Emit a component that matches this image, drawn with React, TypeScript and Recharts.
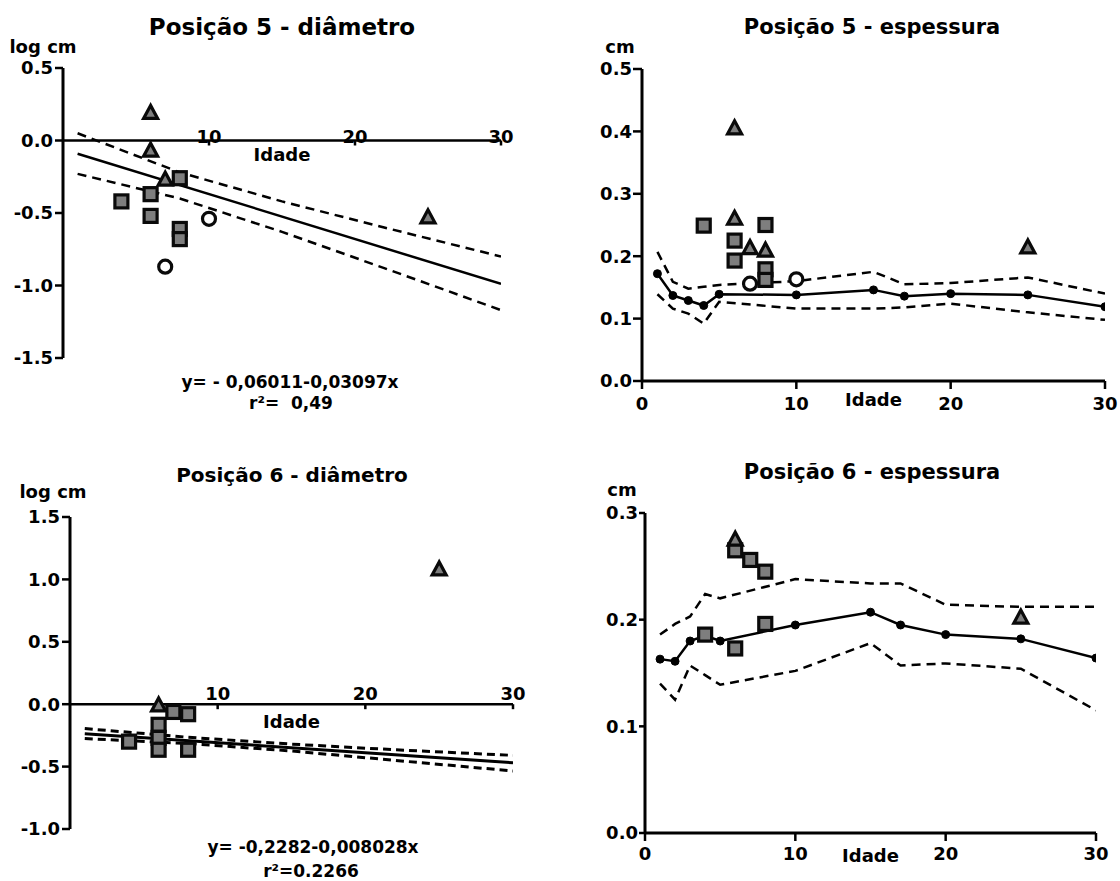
import React from 'react';
import { ComposedChart, XAxis, YAxis, Line, Scatter, ReferenceLine, ReferenceDot } from 'recharts';

const FONT = '"DejaVu Sans", "Liberation Sans", sans-serif';

// ---------- Panel 1: Posição 5 - diâmetro ----------
const p1TriX = [6, 6, 7, 25];
const p1TriY = [0.19, -0.07, -0.27, -0.53];
const p1SqX = [4, 6, 6, 8, 8, 8];
const p1SqY = [-0.42, -0.37, -0.52, -0.26, -0.61, -0.68];
const p1CirX = [7, 10];
const p1CirY = [-0.87, -0.54];
const p1FitX = [1, 30];
const p1FitY = [-0.091, -0.989];
const p1BandX = [1, 8, 15, 22, 30];
const p1Upper = [0.05, -0.22, -0.42, -0.6, -0.8];
const p1Lower = [-0.23, -0.4, -0.63, -0.88, -1.17];
const p1YTicks = [0.5, 0, -0.5, -1, -1.5];

// ---------- Panel 2: Posição 5 - espessura ----------
const p2LineX = [1, 2, 3, 4, 5, 10, 15, 17, 20, 25, 30];
const p2Mean = [0.172, 0.137, 0.129, 0.121, 0.139, 0.138, 0.146, 0.136, 0.14, 0.138, 0.119];
const p2Upper = [0.207, 0.159, 0.148, 0.151, 0.154, 0.16, 0.175, 0.155, 0.157, 0.166, 0.14];
const p2Lower = [0.139, 0.116, 0.108, 0.092, 0.127, 0.116, 0.116, 0.118, 0.124, 0.11, 0.098];
const p2TriX = [6, 6, 7, 8, 25];
const p2TriY = [0.405, 0.26, 0.213, 0.209, 0.214];
const p2SqX = [4, 6, 6, 8, 8, 8];
const p2SqY = [0.249, 0.225, 0.193, 0.25, 0.179, 0.162];
const p2CirX = [7, 10];
const p2CirY = [0.156, 0.163];
const p2YTicks = [0, 0.1, 0.2, 0.3, 0.4, 0.5];

// ---------- Panel 3: Posição 6 - diâmetro ----------
const p3TriX = [6, 25];
const p3TriY = [-0.01, 1.08];
const p3SqX = [4, 6, 6, 6, 7, 8, 8];
const p3SqY = [-0.3, -0.165, -0.27, -0.365, -0.062, -0.08, -0.365];
const p3FitX = [1, 30];
const p3FitY = [-0.236, -0.469];
const p3BandX = [1, 8, 15, 22, 30];
const p3Upper = [-0.195, -0.265, -0.32, -0.365, -0.41];
const p3Lower = [-0.275, -0.315, -0.375, -0.45, -0.535];
const p3YTicks = [1.5, 1, 0.5, 0, -0.5, -1];

// ---------- Panel 4: Posição 6 - espessura ----------
const p4LineX = [1, 2, 3, 4, 5, 10, 15, 17, 20, 25, 30];
const p4Mean = [0.163, 0.161, 0.18, 0.185, 0.18, 0.195, 0.207, 0.195, 0.186, 0.182, 0.164];
const p4Upper = [0.186, 0.196, 0.203, 0.224, 0.22, 0.238, 0.234, 0.234, 0.214, 0.212, 0.212];
const p4Lower = [0.14, 0.125, 0.157, 0.148, 0.139, 0.152, 0.178, 0.157, 0.159, 0.154, 0.115];
const p4TriX = [6, 25];
const p4TriY = [0.275, 0.202];
const p4SqX = [4, 6, 6, 7, 8, 8];
const p4SqY = [0.186, 0.173, 0.265, 0.256, 0.245, 0.196];
const p4YTicks = [0, 0.1, 0.2, 0.3];

const xTicks = [0, 10, 20, 30];
const xTicksInner = [10, 20, 30];

const zip = (xs: number[], ys: number[]) => xs.map((x, i) => ({ x, y: ys[i] }));
const rows = (xs: number[], m: number[], u: number[], l: number[]) =>
  xs.map((x, i) => ({ x, mean: m[i], upper: u[i], lower: l[i] }));

const fmt = (v: number) => v.toFixed(1);

const SquareShape = (p: any) => (
  <rect x={p.cx - 6.5} y={p.cy - 6.5} width={13} height={13} fill="#7e7e7e" stroke="#0a0a0a" strokeWidth={3.2} />
);
const TriShape = (p: any) => (
  <polygon
    points={`${p.cx},${p.cy - 7.5} ${p.cx - 7},${p.cy + 5.5} ${p.cx + 7},${p.cy + 5.5}`}
    fill="#7e7e7e"
    stroke="#0a0a0a"
    strokeWidth={3.2}
    strokeLinejoin="miter"
  />
);
const CircleShape = (p: any) => <circle cx={p.cx} cy={p.cy} r={6.5} fill="#fff" stroke="#0a0a0a" strokeWidth={3.2} />;

const tickStyle = (size: number) => ({ fontFamily: FONT, fontWeight: 700, fontSize: size, fill: '#000' });

const Txt = ({ x, y, size, children }: any) => (
  <div
    style={{
      position: 'absolute',
      left: x,
      top: y,
      transform: 'translate(-50%, -50%)',
      fontFamily: FONT,
      fontWeight: 700,
      fontSize: size,
      whiteSpace: 'pre',
      color: '#000',
      lineHeight: 1,
    }}
  >
    {children}
  </div>
);

const innerTick = (t: number, labelDy: number) => (p: any) => (
  <g>
    <line x1={p.cx} y1={p.cy} x2={p.cx} y2={p.cy + 5} stroke="#000" strokeWidth={2.5} />
    <text
      x={p.cx}
      y={p.cy + labelDy}
      textAnchor="middle"
      dominantBaseline="central"
      style={tickStyle(18)}
    >
      {t}
    </text>
  </g>
);

const idadeLabel = (dy: number) => (p: any) => (
  <text x={p.cx} y={p.cy + dy} textAnchor="middle" dominantBaseline="central" style={tickStyle(18)}>
    Idade
  </text>
);

const axisLine = { stroke: '#000', strokeWidth: 3 };
const tickLine = { stroke: '#000', strokeWidth: 2.5 };

export default function App() {
  return (
    <div style={{ position: 'absolute', left: 0, top: 0, width: 1120, height: 881, background: '#fff', overflow: 'hidden' }}>
      {/* Panel 1 */}
      <div style={{ position: 'absolute', left: 0, top: 0 }}>
        <ComposedChart width={540} height={440} margin={{ top: 68, right: 39, bottom: 82, left: 13 }}>
          <XAxis type="number" dataKey="x" domain={[0, 30]} hide allowDataOverflow />
          <YAxis
            type="number"
            domain={[-1.5, 0.5]}
            ticks={p1YTicks}
            interval={0}
            width={50}
            axisLine={axisLine}
            tickLine={tickLine}
            tickSize={8}
            tickMargin={2}
            tick={tickStyle(18)}
            tickFormatter={fmt}
            allowDataOverflow
          />
          <ReferenceLine segment={[{ x: 0, y: 0 }, { x: 30, y: 0 }]} stroke="#000" strokeWidth={2.5} ifOverflow="visible" />
          {xTicksInner.map((t) => (
            <ReferenceDot key={t} x={t} y={0} r={0} ifOverflow="visible" shape={innerTick(t, -4)} />
          ))}
          <ReferenceDot x={15} y={0} r={0} ifOverflow="visible" shape={idadeLabel(14)} />
          <Line data={zip(p1BandX, p1Upper)} dataKey="y" stroke="#000" strokeWidth={2.5} strokeDasharray="9 6" dot={false} isAnimationActive={false} />
          <Line data={zip(p1BandX, p1Lower)} dataKey="y" stroke="#000" strokeWidth={2.5} strokeDasharray="9 6" dot={false} isAnimationActive={false} />
          <Line data={zip(p1FitX, p1FitY)} dataKey="y" stroke="#000" strokeWidth={2.5} dot={false} isAnimationActive={false} />
          <Scatter data={zip(p1SqX, p1SqY)} dataKey="y" shape={SquareShape} isAnimationActive={false} />
          <Scatter data={zip(p1TriX, p1TriY)} dataKey="y" shape={TriShape} isAnimationActive={false} />
          <Scatter data={zip(p1CirX, p1CirY)} dataKey="y" shape={CircleShape} isAnimationActive={false} />
        </ComposedChart>
      </div>

      {/* Panel 2 */}
      <div style={{ position: 'absolute', left: 560, top: 0 }}>
        <ComposedChart width={560} height={440} margin={{ top: 69, right: 15, bottom: 29, left: 22 }}>
          <XAxis
            type="number"
            dataKey="x"
            domain={[0, 30]}
            ticks={xTicks}
            interval={0}
            height={30}
            axisLine={axisLine}
            tickLine={tickLine}
            tickSize={8}
            tickMargin={8}
            tick={tickStyle(18)}
            allowDataOverflow
          />
          <YAxis
            type="number"
            domain={[0, 0.5]}
            ticks={p2YTicks}
            interval={0}
            width={60}
            axisLine={axisLine}
            tickLine={tickLine}
            tickSize={9}
            tickMargin={1}
            tick={tickStyle(18)}
            tickFormatter={fmt}
            allowDataOverflow
          />
          <ReferenceDot x={15} y={0} r={0} ifOverflow="visible" shape={idadeLabel(18)} />
          <Line data={rows(p2LineX, p2Mean, p2Upper, p2Lower)} dataKey="upper" stroke="#000" strokeWidth={2.5} strokeDasharray="9 6" dot={false} isAnimationActive={false} />
          <Line data={rows(p2LineX, p2Mean, p2Upper, p2Lower)} dataKey="lower" stroke="#000" strokeWidth={2.5} strokeDasharray="9 6" dot={false} isAnimationActive={false} />
          <Line data={rows(p2LineX, p2Mean, p2Upper, p2Lower)} dataKey="mean" stroke="#000" strokeWidth={2.5} dot={{ r: 4, fill: '#000', stroke: '#000', strokeWidth: 1 }} isAnimationActive={false} />
          <Scatter data={zip(p2SqX, p2SqY)} dataKey="y" shape={SquareShape} isAnimationActive={false} />
          <Scatter data={zip(p2TriX, p2TriY)} dataKey="y" shape={TriShape} isAnimationActive={false} />
          <Scatter data={zip(p2CirX, p2CirY)} dataKey="y" shape={CircleShape} isAnimationActive={false} />
        </ComposedChart>
      </div>

      {/* Panel 3 */}
      <div style={{ position: 'absolute', left: 0, top: 440 }}>
        <ComposedChart width={540} height={441} margin={{ top: 77, right: 27, bottom: 52, left: 15 }}>
          <XAxis type="number" dataKey="x" domain={[0, 30]} hide allowDataOverflow />
          <YAxis
            type="number"
            domain={[-1, 1.5]}
            ticks={p3YTicks}
            interval={0}
            width={55}
            axisLine={axisLine}
            tickLine={tickLine}
            tickSize={8}
            tickMargin={2}
            tick={tickStyle(18)}
            tickFormatter={fmt}
            allowDataOverflow
          />
          <ReferenceLine segment={[{ x: 0, y: 0 }, { x: 30, y: 0 }]} stroke="#000" strokeWidth={2.5} ifOverflow="visible" />
          {xTicksInner.map((t) => (
            <ReferenceDot key={t} x={t} y={0} r={0} ifOverflow="visible" shape={innerTick(t, -11)} />
          ))}
          <ReferenceDot x={15} y={0} r={0} ifOverflow="visible" shape={idadeLabel(17)} />
          <Line data={zip(p3BandX, p3Upper)} dataKey="y" stroke="#000" strokeWidth={3} strokeDasharray="8 5" dot={false} isAnimationActive={false} />
          <Line data={zip(p3BandX, p3Lower)} dataKey="y" stroke="#000" strokeWidth={3} strokeDasharray="8 5" dot={false} isAnimationActive={false} />
          <Line data={zip(p3FitX, p3FitY)} dataKey="y" stroke="#000" strokeWidth={3} dot={false} isAnimationActive={false} />
          <Scatter data={zip(p3SqX, p3SqY)} dataKey="y" shape={SquareShape} isAnimationActive={false} />
          <Scatter data={zip(p3TriX, p3TriY)} dataKey="y" shape={TriShape} isAnimationActive={false} />
        </ComposedChart>
      </div>

      {/* Panel 4 */}
      <div style={{ position: 'absolute', left: 560, top: 440 }}>
        <ComposedChart width={560} height={441} margin={{ top: 73, right: 24, bottom: 18, left: 25 }}>
          <XAxis
            type="number"
            dataKey="x"
            domain={[0, 30]}
            ticks={xTicks}
            interval={0}
            height={30}
            axisLine={axisLine}
            tickLine={tickLine}
            tickSize={8}
            tickMargin={6}
            tick={tickStyle(18)}
            allowDataOverflow
          />
          <YAxis
            type="number"
            domain={[0, 0.3]}
            ticks={p4YTicks}
            interval={0}
            width={60}
            axisLine={axisLine}
            tickLine={tickLine}
            tickSize={6}
            tickMargin={1}
            tick={tickStyle(18)}
            tickFormatter={fmt}
            allowDataOverflow
          />
          <ReferenceDot x={15} y={0} r={0} ifOverflow="visible" shape={idadeLabel(22)} />
          <Line data={rows(p4LineX, p4Mean, p4Upper, p4Lower)} dataKey="upper" stroke="#000" strokeWidth={2.5} strokeDasharray="9 6" dot={false} isAnimationActive={false} />
          <Line data={rows(p4LineX, p4Mean, p4Upper, p4Lower)} dataKey="lower" stroke="#000" strokeWidth={2.5} strokeDasharray="9 6" dot={false} isAnimationActive={false} />
          <Line data={rows(p4LineX, p4Mean, p4Upper, p4Lower)} dataKey="mean" stroke="#000" strokeWidth={2.5} dot={{ r: 4, fill: '#000', stroke: '#000', strokeWidth: 1 }} isAnimationActive={false} />
          <Scatter data={zip(p4SqX, p4SqY)} dataKey="y" shape={SquareShape} isAnimationActive={false} />
          <Scatter data={zip(p4TriX, p4TriY)} dataKey="y" shape={TriShape} isAnimationActive={false} />
        </ComposedChart>
      </div>

      {/* Texts */}
      <Txt x={282} y={27} size={23}>Posição 5 - diâmetro</Txt>
      <Txt x={43} y={47} size={18}>log cm</Txt>
      <Txt x={290} y={382} size={17}>y= - 0,06011-0,03097x</Txt>
      <Txt x={291} y={403} size={17}>r²=  0,49</Txt>

      <Txt x={872} y={27} size={21}>Posição 5 - espessura</Txt>
      <Txt x={620} y={47} size={18}>cm</Txt>

      <Txt x={292} y={475} size={20}>Posição 6 - diâmetro</Txt>
      <Txt x={53} y={492} size={18}>log cm</Txt>
      <Txt x={313} y={847} size={17}>y= -0,2282-0,008028x</Txt>
      <Txt x={311} y={871} size={17}>r²=0.2266</Txt>

      <Txt x={872} y={472} size={21}>Posição 6 - espessura</Txt>
      <Txt x={622} y={490} size={18}>cm</Txt>
    </div>
  );
}
